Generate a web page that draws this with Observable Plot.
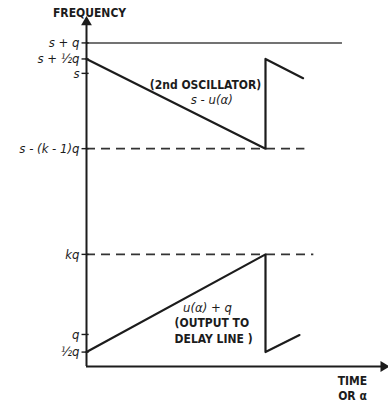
<!DOCTYPE html>
<html>
<head>
<meta charset="utf-8">
<script src="https://cdn.jsdelivr.net/npm/d3@7"></script>
<script src="https://cdn.jsdelivr.net/npm/@observablehq/plot@0.6"></script>
<style>
  body { margin: 0; background: #fff; }
  svg { display: block; }
</style>
</head>
<body>
<div id="chart"></div>
<script>
// Frequency levels (in units of q)
const tickValues = [10.1, 9.6, 9.15, 6.8, 3.5, 1.0, 0.45];
const tickLabels = ["s + q", "s + ½q", "s", "s - (k - 1)q", "kq", "q", "½q"];

// 2nd oscillator sawtooth: s - u(α)
const oscTime = [0, 1, 1, 1.21];
const oscFreq = [9.6, 6.8, 9.6, 9.0];

// output to delay line sawtooth: u(α) + q
const outTime = [0, 1, 1, 1.19];
const outFreq = [0.45, 3.5, 0.45, 0.98];

// reference levels: [level, end time, dashed]
const refLevels = [10.1, 6.8, 3.5];
const refEnds = [1.43, 1.22, 1.27];
const refDashed = [false, true, true];

// annotations
const noteText = ["(2nd OSCILLATOR)", "s - u(α)", "u(α) + q", "(OUTPUT TO", "DELAY LINE )"];
const noteX = [0.665, 0.70, 0.676, 0.70, 0.71];
const noteY = [8.77, 8.33, 1.84, 1.34, 0.84];
const noteItalic = [false, true, true, false, false];

const ink = "#1c1c1c";
const osc = oscTime.map((t, i) => ({t, f: oscFreq[i]}));
const out = outTime.map((t, i) => ({t, f: outFreq[i]}));
const refs = refLevels.map((f, i) => ({f, end: refEnds[i], dashed: refDashed[i]}));
const notes = noteText.map((s, i) => ({s, x: noteX[i], y: noteY[i], it: noteItalic[i]}));
const ticks = tickValues.map((v, i) => ({v, label: tickLabels[i]}));

const condensed = "'DejaVu Sans Condensed', 'DejaVu Sans', sans-serif";

const chart = Plot.plot({
  width: 388,
  height: 404,
  x: {domain: [0, 1], range: [86, 265], axis: null},
  y: {domain: [0, 10.8], range: [366, 20], axis: null},
  style: {background: "#fff", color: ink},
  marks: [
    // solid/dashed reference levels
    Plot.ruleY(refs.filter(d => !d.dashed), {y: "f", x1: 0, x2: "end", stroke: "#444", strokeWidth: 1.5}),
    Plot.ruleY(refs.filter(d => d.dashed), {y: "f", x1: 0, x2: "end", stroke: "#333", strokeWidth: 1.6, strokeDasharray: "9,6"}),
    // axes
    Plot.ruleX([0], {y1: 0, y2: 10.72, stroke: ink, strokeWidth: 2}),
    Plot.ruleY([0], {x1: 0, x2: 1.66, stroke: ink, strokeWidth: 2}),
    Plot.dot([{x: 0, y: 10.75}], {x: "x", y: "y", symbol: "triangle", r: 4, fill: ink, stroke: null}),
    Plot.dot([{x: 1.66, y: 0}], {x: "x", y: "y", symbol: "triangle", r: 4, rotate: 90, fill: ink, stroke: null}),
    // tick marks crossing the axis
    Plot.ruleY(ticks, {y: "v", x1: -0.025, x2: 0.015, stroke: ink, strokeWidth: 1.4}),
    Plot.text(ticks, {x: 0, y: "v", text: "label", textAnchor: "end", dx: -7, fontSize: 13, fontStyle: "italic", fontFamily: condensed, fill: ink}),
    // sawtooth waves
    Plot.line(osc, {x: "t", y: "f", stroke: ink, strokeWidth: 2.2}),
    Plot.line(out, {x: "t", y: "f", stroke: ink, strokeWidth: 2.2}),
    // annotations
    Plot.text(notes.filter(d => !d.it), {x: "x", y: "y", text: "s", fontSize: 12, fontWeight: "bold", fontFamily: condensed, fill: ink}),
    Plot.text(notes.filter(d => d.it), {x: "x", y: "y", text: "s", fontSize: 13, fontStyle: "italic", fontFamily: condensed, fill: ink}),
    Plot.text(["FREQUENCY"], {x: 0.017, y: 11.02, text: d => d, fontSize: 12, fontWeight: "bold", fontFamily: condensed, fill: ink}),
    Plot.text(["TIME", "OR α"], {x: 1.486, y: (d, i) => [-0.45, -0.92][i], text: d => d, fontSize: 12, fontWeight: "bold", fontFamily: condensed, fill: ink})
  ]
});
document.getElementById("chart").appendChild(chart);
</script>
</body>
</html>
